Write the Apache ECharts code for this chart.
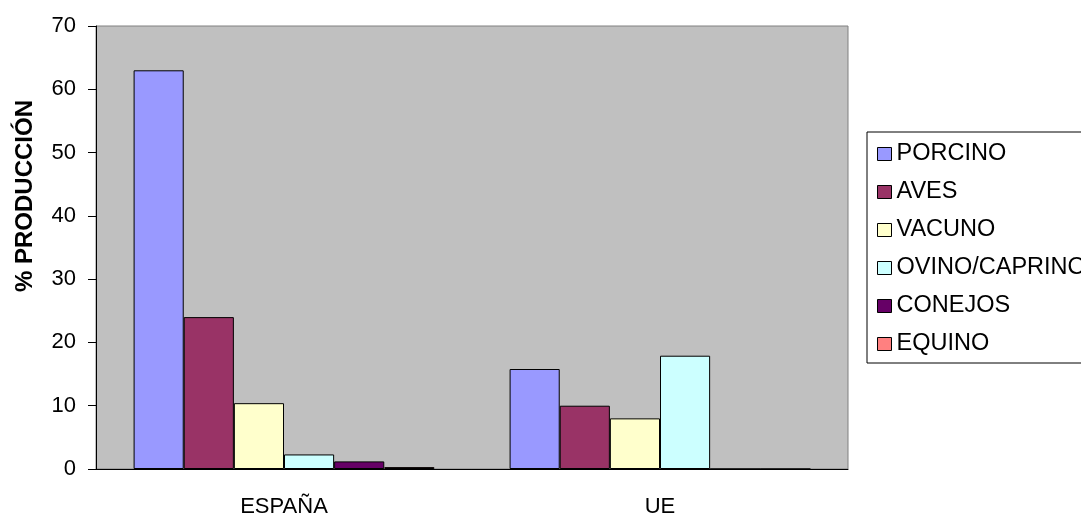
<!DOCTYPE html>
<html>
<head>
<meta charset="utf-8">
<script src="https://cdn.jsdelivr.net/npm/echarts@6/dist/echarts.min.js"></script>
<style>
  html, body { margin: 0; padding: 0; background: #ffffff; }
  #chart { width: 1081px; height: 514px; }
</style>
</head>
<body>
<div id="chart"></div>
<script>
// Regions compared
const categories = ['ESPAÑA', 'UE'];

// Share of meat production by species (%)
const porcino = [63.0, 15.8];
const aves = [24.0, 10.0];
const vacuno = [10.4, 8.0];
const ovinoCaprino = [2.3, 17.9];
const conejos = [1.2, 0];
const equino = [0.3, 0];

const seriesNames = ['PORCINO', 'AVES', 'VACUNO', 'OVINO/CAPRINO', 'CONEJOS', 'EQUINO'];
const seriesValues = [porcino, aves, vacuno, ovinoCaprino, conejos, equino];
const seriesColors = ['#9999FF', '#993366', '#FFFFCC', '#CCFFFF', '#660066', '#FF8080'];

const yTicks = { min: 0, max: 70, interval: 10 };
const axisTitle = '% PRODUCCIÓN';

const FONT = '"Liberation Sans", Arial, sans-serif';

const chart = echarts.init(document.getElementById('chart'), null, { renderer: 'canvas' });

chart.setOption({
  animation: false,
  backgroundColor: '#ffffff',
  textStyle: { fontFamily: FONT, color: '#000000' },
  grid: {
    left: 96, right: 233, top: 26, bottom: 45,
    containLabel: false,
    outerBoundsMode: 'none',
    show: true,
    backgroundColor: '#C0C0C0',
    borderColor: '#808080',
    borderWidth: 1
  },
  xAxis: {
    type: 'category',
    data: categories,
    axisLine: { lineStyle: { color: '#000000', width: 1 } },
    axisTick: { alignWithLabel: false, length: 8, lineStyle: { color: '#000000' } },
    axisLabel: { fontSize: 22, color: '#000000', margin: 27, fontFamily: FONT },
    splitLine: { show: false }
  },
  yAxis: {
    type: 'value',
    min: yTicks.min, max: yTicks.max, interval: yTicks.interval,
    axisLine: { show: true, lineStyle: { color: '#000000', width: 1 } },
    axisTick: { show: true, length: 8, lineStyle: { color: '#000000' } },
    axisLabel: { fontSize: 22, color: '#000000', margin: 20, fontFamily: FONT },
    splitLine: { show: false }
  },
  legend: {
    orient: 'vertical',
    left: 867, top: 132,
    padding: [10, 10, 7, 10],
    itemGap: 14,
    itemWidth: 14,
    itemHeight: 13,
    icon: 'rect',
    borderColor: '#000000',
    borderWidth: 1,
    backgroundColor: '#ffffff',
    textStyle: { fontSize: 23.5, color: '#000000', fontFamily: FONT },
    itemStyle: { borderColor: '#000000', borderWidth: 1 },
    data: seriesNames
  },
  graphic: [{
    type: 'text',
    x: 25, y: 196,
    rotation: Math.PI / 2,
    style: {
      text: axisTitle,
      font: 'bold 24px ' + FONT,
      fill: '#000000',
      align: 'center',
      verticalAlign: 'middle'
    }
  }],
  series: seriesNames.map((name, i) => ({
    name: name,
    type: 'bar',
    data: seriesValues[i],
    barGap: '0%',
    barCategoryGap: '20%',
    itemStyle: { color: seriesColors[i], borderColor: '#000000', borderWidth: 1 }
  }))
});
</script>
</body>
</html>
